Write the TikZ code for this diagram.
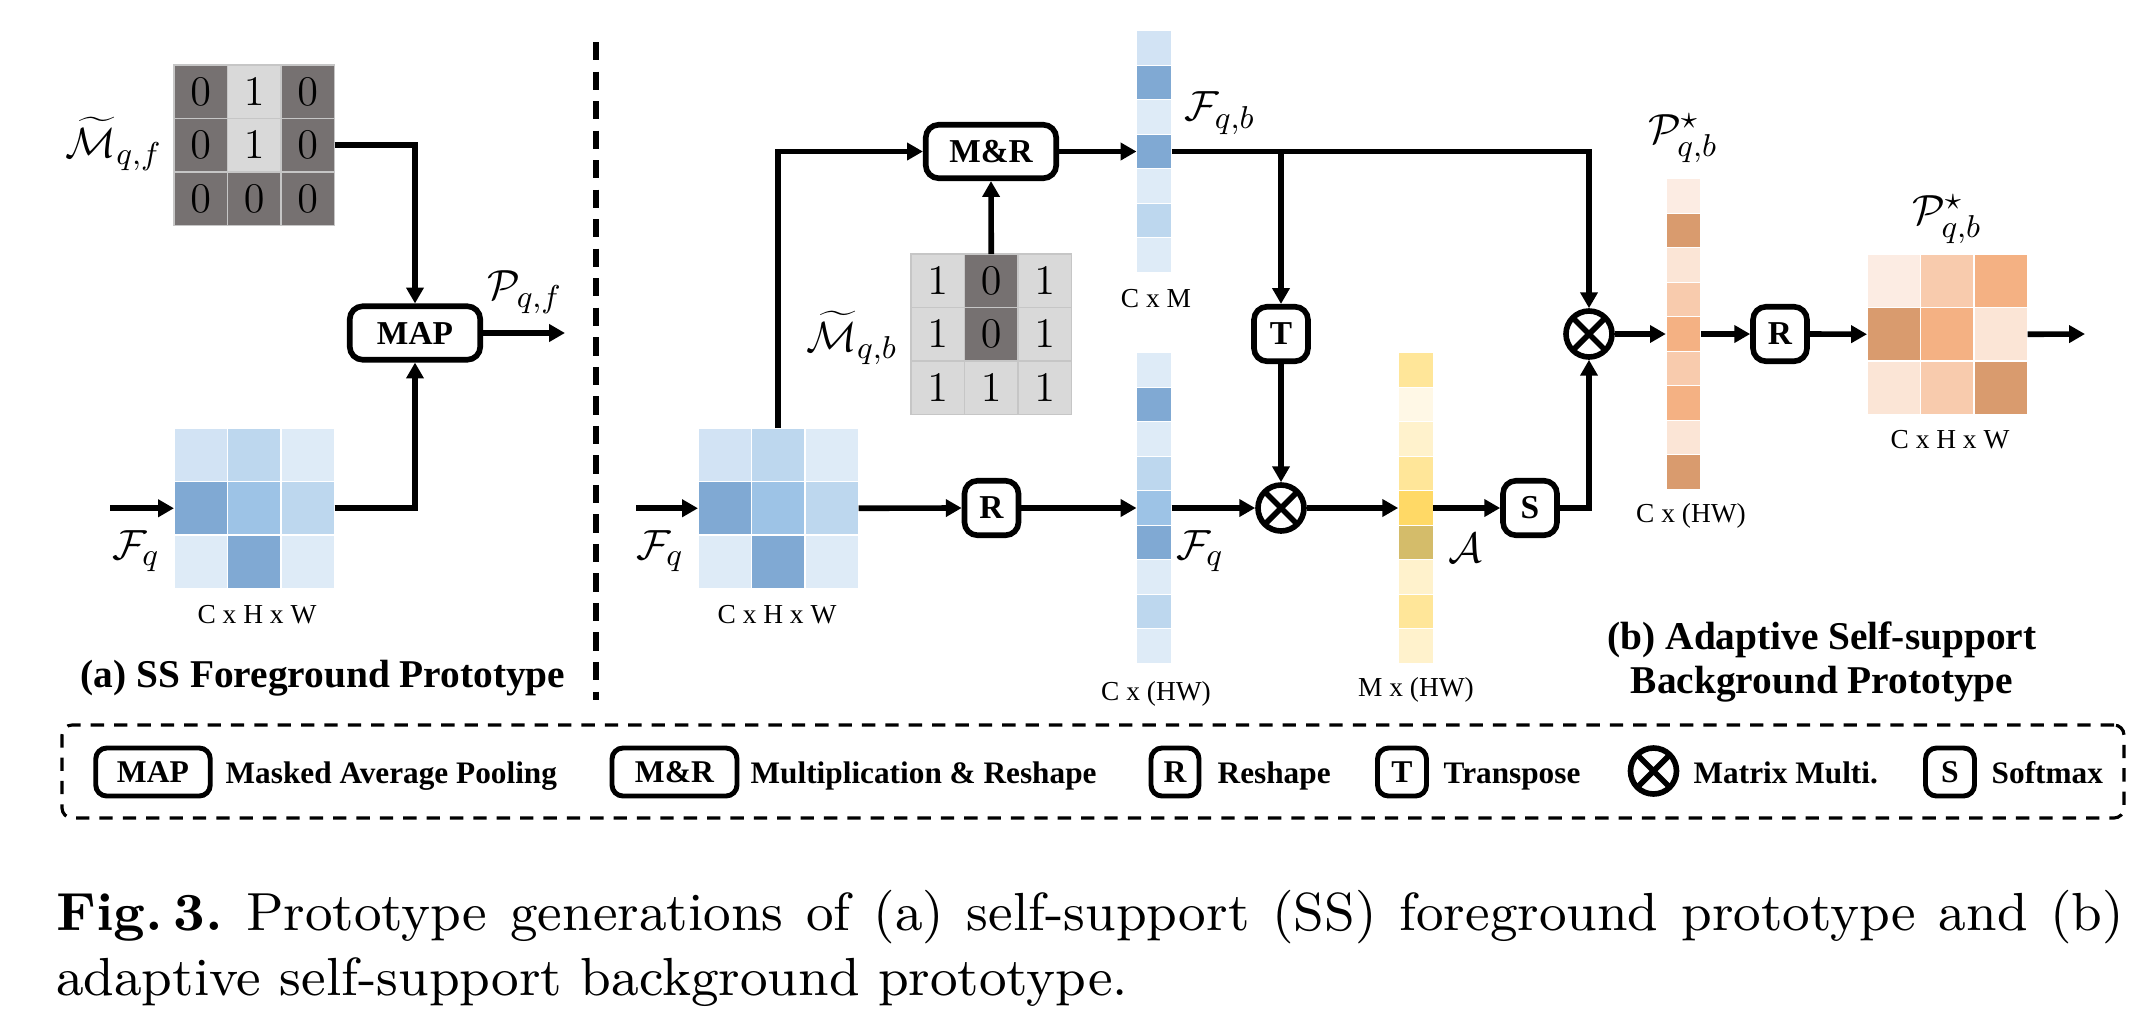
\documentclass[tikz,border=0pt]{standalone}
\usepackage{fontspec}
\newfontfamily\tnr{Liberation Serif}
\usetikzlibrary{arrows.meta}

\definecolor{mD}{HTML}{767171}
\definecolor{mL}{HTML}{D9D9D9}
\definecolor{bA}{HTML}{DEEBF7}
\definecolor{bB}{HTML}{BDD7EE}
\definecolor{bC}{HTML}{9DC3E6}
\definecolor{bD}{HTML}{80A9D3}
\definecolor{bE}{HTML}{D2E3F4}
\definecolor{yA}{HTML}{FFF2CC}
\definecolor{yB}{HTML}{FFE699}
\definecolor{yC}{HTML}{FFD966}
\definecolor{yD}{HTML}{D4BC6A}
\definecolor{yE}{HTML}{FFF8E6}
\definecolor{oA}{HTML}{FBE5D6}
\definecolor{oB}{HTML}{F8CBAD}
\definecolor{oC}{HTML}{F4B183}
\definecolor{oD}{HTML}{D99B6E}
\definecolor{oE}{HTML}{FCECE3}

\tikzstyle{opbox} = [draw, line width=1.6pt, rounded corners=1.3mm, inner sep=0pt, font=\tnr\bfseries\fontsize{9.5}{11}\selectfont]
\tikzstyle{widebox} = [opbox, minimum width=13.05mm, minimum height=5.35mm]
\tikzstyle{smallbox} = [opbox, minimum width=5.4mm, minimum height=5.45mm]
\tikzstyle{legbox} = [draw, line width=1.4pt, rounded corners=1.1mm, inner sep=0pt, minimum height=4.8mm, font=\tnr\bfseries\fontsize{9}{11}\selectfont]
\tikzstyle{mult} = [circle, draw, line width=1.6pt, minimum size=4.6mm, inner sep=0pt, path picture={\draw[line width=1.6pt] (path picture bounding box.north west) -- (path picture bounding box.south east) (path picture bounding box.north east) -- (path picture bounding box.south west);}]
\tikzstyle{arr} = [line width=1.6pt, -{Triangle[length=4.5pt,width=4.8pt]}]
\tikzstyle{gridframe} = [inner sep=0pt, outer sep=0pt, minimum width=16.05mm, minimum height=16.05mm]
\tikzstyle{colframe} = [inner sep=0pt, outer sep=0pt, minimum width=3.5mm]
\tikzstyle{symtxt} = [inner sep=0pt, font=\fontsize{13}{15}\selectfont]
\tikzstyle{digit} = [inner sep=0pt, font=\fontsize{12}{14}\selectfont]
\tikzstyle{dimtxt} = [inner sep=0pt, font=\tnr\fontsize{7.8}{9}\selectfont]
\tikzstyle{paneltitle} = [inner sep=0pt, align=center, font=\tnr\bfseries\fontsize{11.2}{12.7}\selectfont]
\tikzstyle{legtxt} = [anchor=base west, inner sep=0pt, font=\tnr\bfseries\fontsize{8.9}{11}\selectfont]
\tikzstyle{captext} = [anchor=base west, inner sep=0pt, scale=1.696, font=\rmfamily\fontsize{9}{11}\selectfont]

\newcommand{\cellgrid}[3]{%
  \foreach \fc [count=\k from 0] in {#3} {%
    \pgfmathtruncatemacro{\gx}{mod(\k,3)}%
    \pgfmathtruncatemacro{\gy}{div(\k,3)}%
    \fill[fill=\fc, draw=white, line width=.4pt] ({#1+\gx*53.5},{#2+\gy*53.5}) rectangle ++(53.5,53.5);
  }}
\newcommand{\maskgrid}[4]{%
  \foreach \fc/\dg [count=\k from 0] in {#4} {%
    \pgfmathtruncatemacro{\gx}{mod(\k,3)}%
    \pgfmathtruncatemacro{\gy}{div(\k,3)}%
    \fill[fill=\fc, draw=gray!45, line width=.4pt] ({#1+\gx*53.5},{#2+\gy*53.5}) rectangle ++(53.5,53.5);
    \node[digit] (#3-\k) at ({#1+(\gx+.5)*53.5},{#2+(\gy+.5)*53.5}) {$\dg$};
  }}
\newcommand{\cellcol}[3]{%
  \foreach \fc [count=\k from 0] in {#3} {%
    \fill[fill=\fc, draw=white, line width=.4pt] (#1,{#2+\k*34.5}) rectangle ++(35,34.5);
  }}

\begin{document}
\begin{tikzpicture}[x=0.1mm,y=-0.1mm]
\useasboundingbox (0,0) rectangle (2154,1026);

% (a) foreground prototype
\maskgrid{174}{65}{mqfc}{mD/0,mL/1,mD/0,mD/0,mL/1,mD/0,mD/0,mD/0,mD/0}
\cellgrid{174}{428}{bE,bB,bA,bD,bC,bB,bA,bD,bA}
\node[gridframe] (mqf) at (254.25,145.25) {};
\node[gridframe] (fq1) at (254.25,508.25) {};
\node[symtxt] (lqf) at (114,144) {$\widetilde{\mathcal{M}}_{q,f}$};
\node[symtxt] (lfq1) at (136,551) {$\mathcal{F}_q$};
\node[dimtxt] (dim1) at (257,615) {C x H x W};
\node[widebox] (map) at (415,333) {MAP};
\node[symtxt] (lpqf) at (525,292) {$\mathcal{P}_{q,f}$};
\coordinate (in1) at (110,508.25);
\coordinate (out1) at (565,333);
\draw[arr] (in1) -- (fq1.west);
\draw[arr] (mqf.east) -| (map.north);
\draw[arr] (fq1.east) -| (map.south);
\draw[arr] (map.east) -- (out1);
\node[paneltitle] (ta) at (323,678) {(a) SS Foreground Prototype};

\coordinate (sepa) at (596,42);
\coordinate (sepb) at (596,700);
\draw[line width=1.6pt, dash pattern=on 5.2pt off 3.2pt] (sepa) -- (sepb);

% (b) background prototype
\cellgrid{698}{428}{bE,bB,bA,bD,bC,bB,bA,bD,bA}
\maskgrid{911}{254}{mqbc}{mL/1,mD/0,mL/1,mL/1,mD/0,mL/1,mL/1,mL/1,mL/1}
\cellcol{1136.5}{30.75}{bE,bD,bA,bD,bA,bB,bA}
\cellcol{1136.5}{352.75}{bA,bD,bA,bB,bC,bD,bA,bB,bA}
\cellcol{1398.2}{352.75}{yB,yE,yA,yB,yC,yD,yA,yB,yA}
\cellcol{1665.8}{178.75}{oE,oD,oA,oB,oC,oB,oC,oA,oD}
\cellgrid{1867}{254}{oE,oB,oC,oD,oC,oA,oA,oB,oD}

\node[gridframe] (fq2) at (778.25,508.25) {};
\node[gridframe] (mqb) at (991.25,334.25) {};
\node[colframe, minimum height=24.15mm] (cm) at (1154,151.5) {};
\node[colframe, minimum height=31.05mm] (chw) at (1154,508) {};
\node[colframe, minimum height=31.05mm] (att) at (1415.7,508) {};
\node[colframe, minimum height=31.05mm] (pcol) at (1683.3,334) {};
\node[gridframe] (pmat) at (1947.25,334.25) {};

\node[symtxt] (lfq2) at (660,551) {$\mathcal{F}_q$};
\node[dimtxt] (dim2) at (777,615) {C x H x W};
\node[symtxt] (lqb) at (852,338) {$\widetilde{\mathcal{M}}_{q,b}$};
\node[symtxt] (lfqb) at (1220,113) {$\mathcal{F}_{q,b}$};
\node[dimtxt] (dimcm) at (1156,299) {C x M};
\node[dimtxt] (dimchw) at (1156,694) {C x (HW)};
\node[symtxt] (lfq3) at (1200,551) {$\mathcal{F}_q$};
\node[symtxt] (la) at (1465,548) {$\mathcal{A}$};
\node[dimtxt] (dimatt) at (1416,690) {M x (HW)};
\node[symtxt] (lp1) at (1683,138) {$\mathcal{P}^{\star}_{q,b}$};
\node[dimtxt] (dimp) at (1691,516) {C x (HW)};
\node[symtxt] (lp2) at (1947,219) {$\mathcal{P}^{\star}_{q,b}$};
\node[dimtxt] (dimpm) at (1950,440) {C x H x W};

\node[widebox] (mr) at (991,151.5) {M\&R};
\node[smallbox] (r1) at (991.5,508) {R};
\node[smallbox] (t) at (1281,334) {T};
\node[mult] (mul1) at (1281,508) {};
\node[smallbox] (s) at (1530,508) {S};
\node[mult] (mul2) at (1589,334) {};
\node[smallbox] (r2) at (1780,334) {R};

\coordinate (in2) at (636,508.25);
\coordinate (out2) at (2085,334);
\draw[arr] (in2) -- (fq2.west);
\draw[arr] (fq2.north) |- (mr.west);
\draw[arr] (mqb.north) -- (mr.south);
\draw[arr] (mr.east) -- (cm.west);
\draw[arr] (fq2.east) -- (r1.west);
\draw[arr] (r1.east) -- (chw.west);
\draw[arr] (cm.east) -| (mul2.north);
\draw[arr] (t.north |- cm.east) -- (t.north);
\draw[arr] (t.south) -- (mul1.north);
\draw[arr] (chw.east) -- (mul1.west);
\draw[arr] (mul1.east) -- (att.west);
\draw[arr] (att.east) -- (s.west);
\draw[arr] (s.east) -| (mul2.south);
\draw[arr] (mul2.east) -- (pcol.west);
\draw[arr] (pcol.east) -- (r2.west);
\draw[arr] (r2.east) -- (pmat.west);
\draw[arr] (pmat.east) -- (out2);
\node[paneltitle] (tb) at (1822,662) {(b) Adaptive Self-support\\Background Prototype};

% legend
\node[draw, line width=0.9pt, dash pattern=on 3.8pt off 2.85pt, rounded corners=1mm, minimum width=206.2mm, minimum height=9.3mm] (leg) at (1093,771.5) {};
\node[legbox, minimum width=11.45mm] (kmap) at (153,772) {MAP};
\node[legtxt] (tmap) at (225,783) {Masked Average Pooling};
\node[legbox, minimum width=12.5mm] (kmr) at (674.5,772) {M\&R};
\node[legtxt] (tmr) at (750,783) {Multiplication \& Reshape};
\node[legbox, minimum width=4.8mm] (kr) at (1175,772) {R};
\node[legtxt] (tr) at (1217,783) {Reshape};
\node[legbox, minimum width=4.9mm] (kt) at (1402,772) {T};
\node[legtxt] (tt) at (1443,783) {Transpose};
\node[mult] (km) at (1653.5,771) {};
\node[legtxt] (tm) at (1693,783) {Matrix Multi.};
\node[legbox, minimum width=4.9mm] (ks) at (1950,772) {S};
\node[legtxt] (ts) at (1991,783) {Softmax};

% caption
\node[captext] (cap1) at (55,930) {\makebox[121.93mm][s]{\mbox{\textbf{Fig.\hspace{0.2em}3.}} Prototype generations of (a) self-support (SS) foreground prototype and (b)}};
\node[captext] (cap2) at (55,995.6) {adaptive self-support background prototype.};
\end{tikzpicture}
\end{document}
